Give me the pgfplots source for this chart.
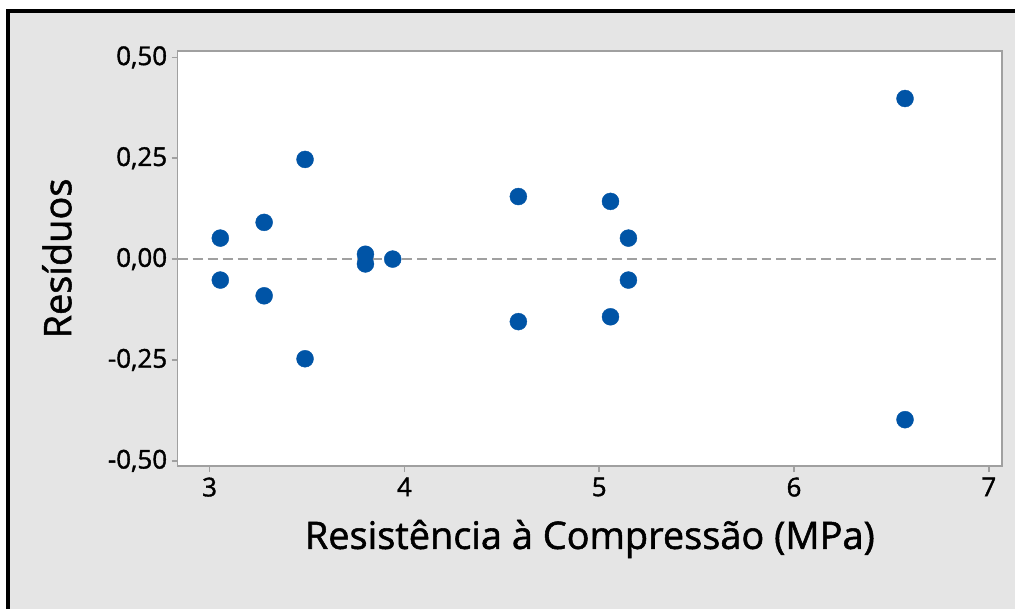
\documentclass[border=0pt]{standalone}
\usepackage{pgfplots}
\pgfplotsset{compat=1.18}
\usepackage{fontspec}
\setmainfont{Open Sans}[BoldFont={Open Sans}, BoldFeatures={FakeBold=1.4}]
\definecolor{bggray}{RGB}{229,229,229}
\definecolor{framegray}{RGB}{160,160,160}
\definecolor{dotblue}{RGB}{0,84,166}
\begin{document}
\begin{tikzpicture}[x=1pt,y=1pt]
\fill[white] (0,0) rectangle (1017,610);
\fill[bggray] (8,0) rectangle (1017,599);
\draw[black,line width=4pt] (8,0) -- (8,599) -- (1017,599);
\begin{axis}[
  at={(178pt,143pt)}, anchor=south west,
  scale only axis, width=826pt, height=416pt,
  xmin=2.836, xmax=7.068, ymin=-0.513, ymax=0.516,
  axis background/.style={fill=white},
  axis line style={framegray, line width=1.5pt},
  tick style={framegray, line width=1.5pt},
  tick align=outside, major tick length=6pt,
  xtick={3,4,5,6,7}, xticklabels={3,4,5,6,7},
  ytick={-0.5,-0.25,0,0.25,0.5},
  yticklabels={{-0,50},{-0,25},{0,00},{0,25},{0,50}},
  xtick pos=bottom, ytick pos=left,
  ticklabel style={font=\fontsize{26}{30}\selectfont\bfseries, text=black},
  xticklabel style={yshift=-2pt},
  yticklabel style={xshift=-1pt},
  xlabel={Resistência à Compressão (MPa)},
  ylabel={Resíduos},
  label style={font=\fontsize{38}{42}\selectfont\bfseries, text=black},
  xlabel style={at={(axis description cs:0.5,-0.1755)}, anchor=center},
  ylabel style={at={(axis description cs:-0.1465,0.5)}, anchor=center},
  clip=false,
]
\addplot[framegray, dashed, line width=1.5pt, dash pattern=on 10pt off 5pt] coordinates {(2.836,0) (7.068,0)};
\addplot[only marks, mark=*, mark size=8.5pt, mark options={fill=dotblue, draw=dotblue}] coordinates {
(3.055,0.052) (3.055,-0.052)
(3.28,0.091) (3.28,-0.091)
(3.49,0.247) (3.49,-0.247)
(3.80,0.012) (3.80,-0.012)
(3.94,0.0)
(4.585,0.155) (4.585,-0.155)
(5.058,0.143) (5.058,-0.143)
(5.15,0.052) (5.15,-0.052)
(6.57,0.398) (6.57,-0.398)
};
\end{axis}
\end{tikzpicture}
\end{document}
